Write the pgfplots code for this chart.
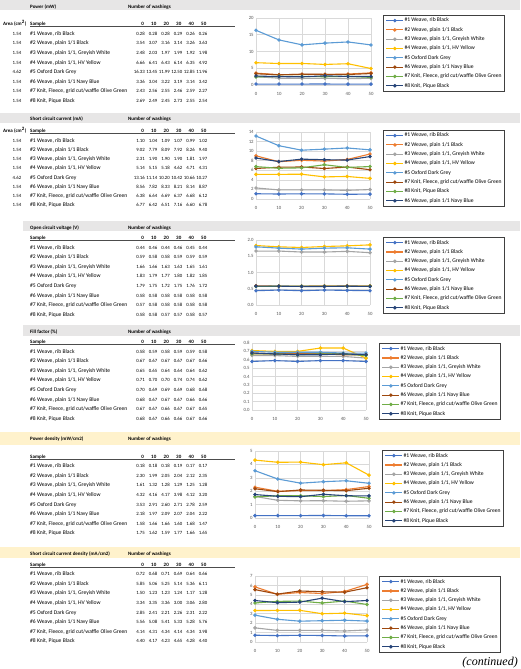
\documentclass[border=0pt]{standalone}
\usepackage{fontspec}
\setmainfont{Carlito}
\newfontfamily\serifit{Liberation Serif}
\usepackage{pgfplots}
\usepackage{pgfplotstable}
\pgfplotsset{compat=1.18}

\definecolor{c1}{HTML}{4472C4}
\definecolor{c2}{HTML}{ED7D31}
\definecolor{c3}{HTML}{A5A5A5}
\definecolor{c4}{HTML}{FFC000}
\definecolor{c5}{HTML}{5B9BD5}
\definecolor{c6}{HTML}{9E480E}
\definecolor{c7}{HTML}{70AD47}
\definecolor{c8}{HTML}{264478}
\definecolor{bandgray}{HTML}{E7E6E6}
\definecolor{bandyellow}{HTML}{FFF2CC}
\definecolor{tickgray}{HTML}{595959}
\definecolor{gridgray}{HTML}{D9D9D9}

\newcommand\nA{\#1 Weave, rib Black}
\newcommand\nB{\#2 Weave, plain 1/1 Black}
\newcommand\nC{\#3 Weave, plain 1/1, Greyish White}
\newcommand\nD{\#4 Weave, plain 1/1, HV Yellow}
\newcommand\nE{\#5 Oxford Dark Grey}
\newcommand\nF{\#6 Weave, plain 1/1 Navy Blue}
\newcommand\nG{\#7 Knit, Fleece, grid cut/waffle Olive Green}
\newcommand\nH{\#8 Knit, Pique Black}

\newcommand\namefont{\fontsize{5.6}{6}\selectfont}
\newcommand\numfont{\fontsize{4.8}{6}\selectfont}
\newcommand\hdfont{\fontsize{5.0}{6}\selectfont\bfseries}

\pgfplotstableread{
w a b c d e f g h
0 0.28 3.54 2.48 6.66 16.33 3.36 2.43 2.69
10 0.28 3.07 2.03 6.41 13.45 3.04 2.56 2.49
20 0.28 3.16 1.97 6.43 11.99 3.22 2.55 2.45
30 0.29 3.14 1.99 6.14 12.50 3.19 2.46 2.73
40 0.26 3.26 1.92 6.35 12.85 3.14 2.59 2.55
50 0.26 3.63 1.98 4.92 11.96 3.42 2.27 2.54
}\tPow
\pgfplotstableread{
w a b c d e f g h
0 1.10 9.02 2.31 5.14 13.16 8.56 6.38 6.77
10 1.04 7.79 1.90 5.15 11.14 7.82 6.64 6.42
20 1.09 8.09 1.90 5.18 10.20 8.33 6.69 6.51
30 1.07 7.92 1.90 4.62 10.42 8.21 6.37 7.16
40 0.99 8.26 1.81 4.71 10.66 8.14 6.68 6.60
50 1.02 9.40 1.97 4.31 10.27 8.87 6.12 6.78
}\tIsc
\pgfplotstableread{
w a b c d e f g h
0 0.44 0.59 1.66 1.83 1.79 0.58 0.57 0.58
10 0.46 0.58 1.66 1.79 1.75 0.58 0.58 0.58
20 0.44 0.58 1.63 1.77 1.72 0.58 0.58 0.57
30 0.46 0.59 1.63 1.80 1.75 0.58 0.58 0.57
40 0.45 0.59 1.65 1.82 1.76 0.58 0.58 0.58
50 0.44 0.59 1.61 1.85 1.72 0.58 0.58 0.57
}\tVoc
\pgfplotstableread{
w a b c d e f g h
0 0.58 0.67 0.65 0.71 0.70 0.68 0.67 0.68
10 0.59 0.67 0.65 0.70 0.69 0.67 0.67 0.67
20 0.58 0.67 0.64 0.70 0.69 0.67 0.66 0.66
30 0.59 0.67 0.64 0.74 0.69 0.67 0.67 0.66
40 0.59 0.67 0.64 0.74 0.68 0.66 0.67 0.67
50 0.58 0.66 0.62 0.62 0.68 0.66 0.65 0.66
}\tFF
\pgfplotstableread{
w a b c d e f g h
0 0.18 2.30 1.61 4.32 3.53 2.18 1.58 1.75
10 0.18 1.99 1.32 4.16 2.91 1.97 1.66 1.62
20 0.18 2.05 1.28 4.17 2.60 2.09 1.66 1.59
30 0.19 2.04 1.29 3.98 2.71 2.07 1.60 1.77
40 0.17 2.12 1.25 4.12 2.78 2.04 1.68 1.66
50 0.17 2.35 1.28 3.20 2.59 2.22 1.47 1.65
}\tPD
\pgfplotstableread{
w a b c d e f g h
0 0.72 5.85 1.50 3.34 2.85 5.56 4.14 4.40
10 0.68 5.06 1.23 3.35 2.41 5.08 4.31 4.17
20 0.71 5.25 1.23 3.36 2.21 5.41 4.34 4.23
30 0.69 5.14 1.24 3.00 2.26 5.33 4.14 4.65
40 0.64 5.36 1.17 3.06 2.31 5.28 4.34 4.28
50 0.66 6.11 1.28 2.80 2.22 5.76 3.98 4.40
}\tJsc

\pgfplotsset{
 mych/.style={
  scale only axis, anchor=north west,
  xmin=0, xmax=50, xtick={0,10,20,30,40,50},
  grid=major, major grid style={draw=gridgray, line width=0.5pt},
  axis line style={draw=none}, major tick length=0pt,
  tick label style={font=\fontsize{4.8}{5}\selectfont, text=tickgray},
  xticklabel style={yshift=-4pt}, yticklabel style={xshift=1.2pt},
  /pgf/number format/assume math mode=true,
  clip=false,
  legend cell align=left,
  legend style={anchor=north west, draw=black!75, line width=0.6pt,
    font=\fontsize{5.6}{6}\selectfont, inner sep=2.5pt, row sep=3.6pt,
    nodes={inner sep=0.6pt, text height=3.6pt, text depth=0.9pt}},
  every axis plot/.append style={line width=1.1pt, mark=*, mark size=1.15pt, mark options={solid}},
 },
 onedec/.style={yticklabel style={/pgf/number format/.cd, fixed, fixed zerofill, precision=1}},
}

\newcommand\stdplots[1]{%
 \addplot[c1] table[x=w,y=a]{#1}; \addlegendentry{\nA}
 \addplot[c2] table[x=w,y=b]{#1}; \addlegendentry{\nB}
 \addplot[c3] table[x=w,y=c]{#1}; \addlegendentry{\nC}
 \addplot[c4] table[x=w,y=d]{#1}; \addlegendentry{\nD}
 \addplot[c5] table[x=w,y=e]{#1}; \addlegendentry{\nE}
 \addplot[c6] table[x=w,y=f]{#1}; \addlegendentry{\nF}
 \addplot[c7] table[x=w,y=g]{#1}; \addlegendentry{\nG}
 \addplot[c8] table[x=w,y=h]{#1}; \addlegendentry{\nH}
}

\newcommand\trow[9]{%
 \node[anchor=mid,font=\numfont] at (17,#1) {#9};
 \node[anchor=mid west,font=\namefont] at (30,#1) {#2};
 \node[anchor=mid east,font=\numfont] at (145,#1) {#3};
 \node[anchor=mid east,font=\numfont] at (157.5,#1) {#4};
 \node[anchor=mid east,font=\numfont] at (170,#1) {#5};
 \node[anchor=mid east,font=\numfont] at (182.5,#1) {#6};
 \node[anchor=mid east,font=\numfont] at (195,#1) {#7};
 \node[anchor=mid east,font=\numfont] at (207.5,#1) {#8};
}
\newcommand\thead[4]{% #1 title y, #2 header y, #3 title, #4 area label
 \node[anchor=mid west,font=\hdfont] at (30,#1) {#3};
 \node[anchor=mid west,font=\hdfont] at (128,#1) {Number of washings};
 \node[anchor=mid west,font=\hdfont] at (3,#2) {#4};
 \node[anchor=mid west,font=\hdfont] at (30,#2) {Sample};
 \node[anchor=mid east,font=\hdfont] at (144,#2) {0};
 \node[anchor=mid east,font=\hdfont] at (156.5,#2) {10};
 \node[anchor=mid east,font=\hdfont] at (169,#2) {20};
 \node[anchor=mid east,font=\hdfont] at (181.5,#2) {30};
 \node[anchor=mid east,font=\hdfont] at (194,#2) {40};
 \node[anchor=mid east,font=\hdfont] at (206.5,#2) {50};
 \draw[black!70, line width=0.6pt] (30,#2+3.5) -- (235,#2+3.5);
}

\begin{document}
\begin{tikzpicture}
\begin{scope}[x=1pt,y=-1pt]
\path[use as bounding box, fill=white] (0,0) rectangle (520,669);
\fill[bandgray] (0,0) rectangle (520,10);
\fill[bandgray] (0,113) rectangle (520,123);
\fill[bandgray] (23,221) rectangle (520,231);
\fill[bandgray] (23,325) rectangle (520,336);
\fill[bandyellow] (0,432) rectangle (520,445);
\fill[bandyellow] (0,547) rectangle (520,558);
\begin{scope}[every node/.style={inner sep=0pt}]
% Power
\thead{6}{23}{Power (mW)}{Area (cm\textsuperscript{2})}
\trow{33}{\nA}{0.28}{0.28}{0.28}{0.29}{0.26}{0.26}{1.54}
\trow{42.6}{\nB}{3.54}{3.07}{3.16}{3.14}{3.26}{3.63}{1.54}
\trow{52.2}{\nC}{2.48}{2.03}{1.97}{1.99}{1.92}{1.98}{1.54}
\trow{61.8}{\nD}{6.66}{6.41}{6.43}{6.14}{6.35}{4.92}{1.54}
\trow{71.4}{\nE}{16.33}{13.45}{11.99}{12.50}{12.85}{11.96}{4.62}
\trow{81}{\nF}{3.36}{3.04}{3.22}{3.19}{3.14}{3.42}{1.54}
\trow{90.6}{\nG}{2.43}{2.56}{2.55}{2.46}{2.59}{2.27}{1.54}
\trow{100.2}{\nH}{2.69}{2.49}{2.45}{2.73}{2.55}{2.54}{1.54}
% Isc
\thead{118.5}{130}{Short circuit current (mA)}{Area (cm\textsuperscript{2})}
\trow{140}{\nA}{1.10}{1.04}{1.09}{1.07}{0.99}{1.02}{1.54}
\trow{149.2}{\nB}{9.02}{7.79}{8.09}{7.92}{8.26}{9.40}{1.54}
\trow{158.4}{\nC}{2.31}{1.90}{1.90}{1.90}{1.81}{1.97}{1.54}
\trow{167.6}{\nD}{5.14}{5.15}{5.18}{4.62}{4.71}{4.31}{1.54}
\trow{176.8}{\nE}{13.16}{11.14}{10.20}{10.42}{10.66}{10.27}{4.62}
\trow{186}{\nF}{8.56}{7.82}{8.33}{8.21}{8.14}{8.87}{1.54}
\trow{195.2}{\nG}{6.38}{6.64}{6.69}{6.37}{6.68}{6.12}{1.54}
\trow{204.4}{\nH}{6.77}{6.42}{6.51}{7.16}{6.60}{6.78}{1.54}
% Voc
\thead{227}{237}{Open circuit voltage (V)}{}
\trow{246.7}{\nA}{0.44}{0.46}{0.44}{0.46}{0.45}{0.44}{}
\trow{256.3}{\nB}{0.59}{0.58}{0.58}{0.59}{0.59}{0.59}{}
\trow{265.9}{\nC}{1.66}{1.66}{1.63}{1.63}{1.65}{1.61}{}
\trow{275.5}{\nD}{1.83}{1.79}{1.77}{1.80}{1.82}{1.85}{}
\trow{285.1}{\nE}{1.79}{1.75}{1.72}{1.75}{1.76}{1.72}{}
\trow{294.7}{\nF}{0.58}{0.58}{0.58}{0.58}{0.58}{0.58}{}
\trow{304.3}{\nG}{0.57}{0.58}{0.58}{0.58}{0.58}{0.58}{}
\trow{313.9}{\nH}{0.58}{0.58}{0.57}{0.57}{0.58}{0.57}{}
% FF
\thead{331}{340.7}{Fill factor (\%)}{}
\trow{350.7}{\nA}{0.58}{0.59}{0.58}{0.59}{0.59}{0.58}{}
\trow{360.3}{\nB}{0.67}{0.67}{0.67}{0.67}{0.67}{0.66}{}
\trow{369.9}{\nC}{0.65}{0.65}{0.64}{0.64}{0.64}{0.62}{}
\trow{379.5}{\nD}{0.71}{0.70}{0.70}{0.74}{0.74}{0.62}{}
\trow{389.1}{\nE}{0.70}{0.69}{0.69}{0.69}{0.68}{0.68}{}
\trow{398.7}{\nF}{0.68}{0.67}{0.67}{0.67}{0.66}{0.66}{}
\trow{408.3}{\nG}{0.67}{0.67}{0.66}{0.67}{0.67}{0.65}{}
\trow{417.9}{\nH}{0.68}{0.67}{0.66}{0.66}{0.67}{0.66}{}
% PD
\thead{438}{456}{Power density (mW/cm2)}{}
\trow{465.3}{\nA}{0.18}{0.18}{0.18}{0.19}{0.17}{0.17}{}
\trow{474.9}{\nB}{2.30}{1.99}{2.05}{2.04}{2.12}{2.35}{}
\trow{484.5}{\nC}{1.61}{1.32}{1.28}{1.29}{1.25}{1.28}{}
\trow{494.1}{\nD}{4.32}{4.16}{4.17}{3.98}{4.12}{3.20}{}
\trow{503.7}{\nE}{3.53}{2.91}{2.60}{2.71}{2.78}{2.59}{}
\trow{513.3}{\nF}{2.18}{1.97}{2.09}{2.07}{2.04}{2.22}{}
\trow{522.9}{\nG}{1.58}{1.66}{1.66}{1.60}{1.68}{1.47}{}
\trow{532.5}{\nH}{1.75}{1.62}{1.59}{1.77}{1.66}{1.65}{}
% Jsc
\thead{553}{564}{Short circuit current density (mA/cm2)}{}
\trow{573.3}{\nA}{0.72}{0.68}{0.71}{0.69}{0.64}{0.66}{}
\trow{582.9}{\nB}{5.85}{5.06}{5.25}{5.14}{5.36}{6.11}{}
\trow{592.5}{\nC}{1.50}{1.23}{1.23}{1.24}{1.17}{1.28}{}
\trow{602.1}{\nD}{3.34}{3.35}{3.36}{3.00}{3.06}{2.80}{}
\trow{611.7}{\nE}{2.85}{2.41}{2.21}{2.26}{2.31}{2.22}{}
\trow{621.3}{\nF}{5.56}{5.08}{5.41}{5.33}{5.28}{5.76}{}
\trow{630.9}{\nG}{4.14}{4.31}{4.34}{4.14}{4.34}{3.98}{}
\trow{640.5}{\nH}{4.40}{4.17}{4.23}{4.65}{4.28}{4.40}{}
\end{scope}
\node[anchor=east, inner sep=0pt, font=\serifit\itshape\fontsize{12}{13}\selectfont] at (518,663) {(continued)};
\end{scope}

% Chart 1: Power
\begin{axis}[mych, at={(256pt,-18pt)}, width=115pt, height=67pt,
  ymin=0, ymax=20, ytick={0,5,10,15,20},
  legend style={at={(1.104,1.045)}}]
\stdplots{\tPow}
\end{axis}

% Chart 2: Isc
\begin{axis}[mych, at={(256pt,-132pt)}, width=114pt, height=67pt,
  ymin=0, ymax=14, ytick={0,2,4,6,8,10,12,14},
  legend style={at={(1.114,1.03)}}]
\addplot[c1] table[x=w,y=a]{\tIsc}; \addlegendentry{\nA}
\addplot[c2] table[x=w,y=b]{\tIsc}; \addlegendentry{\nB}
\addplot[c3] table[x=w,y=c]{\tIsc}; \addlegendentry{\nC}
\addplot[c4] table[x=w,y=d]{\tIsc}; \addlegendentry{\nD}
\addplot[c5] table[x=w,y=e]{\tIsc}; \addlegendentry{\nE}
\addplot[c6] table[x=w,y=g]{\tIsc}; \addlegendentry{\nG}
\addplot[c7] table[x=w,y=h]{\tIsc}; \addlegendentry{\nH}
\addplot[c8] table[x=w,y=f]{\tIsc}; \addlegendentry{\nF}
\end{axis}

% Chart 3: Voc
\begin{axis}[mych, onedec, at={(256pt,-240pt)}, width=114pt, height=65pt,
  ymin=0, ymax=2, ytick={0,0.5,1,1.5,2},
  legend style={at={(1.114,1.046)}}]
\stdplots{\tVoc}
\end{axis}

% Chart 4: FF
\begin{axis}[mych, onedec, at={(252pt,-343pt)}, width=114pt, height=67pt,
  ymin=0, ymax=0.8, ytick={0,0.1,0.2,0.3,0.4,0.5,0.6,0.7,0.8},
  legend style={at={(1.114,1.0)}}]
\stdplots{\tFF}
\end{axis}

% Chart 5: PD
\begin{axis}[mych, at={(255pt,-451pt)}, width=114pt, height=67pt,
  ymin=0, ymax=5, ytick={0,1,2,3,4,5},
  legend style={at={(1.114,1.015)}}]
\stdplots{\tPD}
\end{axis}

% Chart 6: Jsc
\begin{axis}[mych, at={(255pt,-576pt)}, width=112pt, height=66pt,
  ymin=0, ymax=7, ytick={0,1,2,3,4,5,6,7},
  legend style={at={(1.107,1.0)}}]
\stdplots{\tJsc}
\end{axis}
\end{tikzpicture}
\end{document}
